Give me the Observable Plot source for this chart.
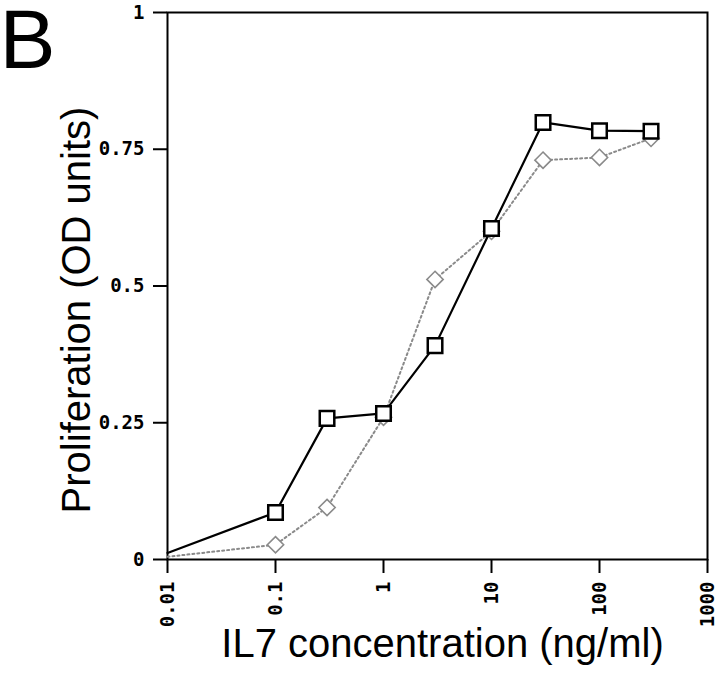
<!DOCTYPE html>
<html><head><meta charset="utf-8">
<script src="https://cdn.jsdelivr.net/npm/d3@7"></script>
<script src="https://cdn.jsdelivr.net/npm/@observablehq/plot@0.6"></script>
<style>body{margin:0;background:#fff}</style>
</head><body><div id="chart"></div>
<script>
const concentrations = [0.01, 0.1, 0.3, 1, 3, 10, 30, 100, 300];
const squareSeries = [0.012, 0.086, 0.258, 0.267, 0.391, 0.605, 0.799, 0.784, 0.783];
const diamondSeries = [0.005, 0.027, 0.095, 0.26, 0.512, 0.6, 0.73, 0.735, 0.77];
const xTicks = [0.01, 0.1, 1, 10, 100, 1000];
const xTickLabels = ["0.01", "0.1", "1", "10", "100", "1000"];
const yTicks = [0, 0.25, 0.5, 0.75, 1];
const yTickLabels = ["0", "0.25", "0.5", "0.75", "1"];
const panelLabel = "B";
const xLabel = "IL7 concentration (ng/ml)";
const yLabel = "Proliferation (OD units)";

const rows = concentrations.map((c, i) => ({c, sq: squareSeries[i], di: diamondSeries[i]}));
const marked = rows.slice(1);

const diamond = {
  draw(ctx, size) {
    const h = Math.sqrt(size / 2);
    ctx.moveTo(0, -h); ctx.lineTo(h, 0); ctx.lineTo(0, h); ctx.lineTo(-h, 0); ctx.closePath();
  }
};

const labelFont = {fontFamily: "Liberation Sans, Arial, sans-serif", fontSize: 40, lineAnchor: "middle", textAnchor: "middle"};

const chart = Plot.plot({
  width: 720, height: 674,
  marginLeft: 167, marginRight: 13, marginTop: 12, marginBottom: 115,
  style: {background: "white", overflow: "visible", color: "black"},
  x: {type: "log", domain: [0.01, 1000]},
  y: {domain: [0, 1]},
  marks: [
    Plot.frame({stroke: "black", strokeWidth: 2}),
    Plot.axisY(yTicks, {tickSize: 14, tickPadding: 9, strokeWidth: 2, label: null,
      tickFormat: d => yTickLabels[yTicks.indexOf(d)]}),
    Plot.axisX(xTicks, {tickSize: 14, tickPadding: 8, strokeWidth: 2, label: null, tickRotate: -90,
      tickFormat: d => xTickLabels[xTicks.indexOf(d)]}),
    Plot.line(rows, {x: "c", y: "di", stroke: "#8a8a8a", strokeWidth: 2, strokeDasharray: "2,3"}),
    Plot.dot(marked, {x: "c", y: "di", symbol: diamond, r: 6.5, fill: "white", stroke: "#8a8a8a", strokeWidth: 1.6}),
    Plot.line(rows, {x: "c", y: "sq", stroke: "black", strokeWidth: 2.2}),
    Plot.dot(marked, {x: "c", y: "sq", symbol: "square", r: 8.2, fill: "white", stroke: "black", strokeWidth: 2.5}),
    Plot.text([xLabel], {frameAnchor: "bottom", dx: 5, dy: 85, text: d => d, ...labelFont}),
    Plot.text([yLabel], {frameAnchor: "left", dx: -90, dy: 24, rotate: -90, text: d => d, ...labelFont}),
    Plot.text([panelLabel], {frameAnchor: "top-left", dx: -168, dy: 29, textAnchor: "start", lineAnchor: "middle", text: d => d,
      fontFamily: "Liberation Sans, Arial, sans-serif", fontSize: 84})
  ]
});
const allTickLabels = new Set([...xTickLabels, ...yTickLabels]);
d3.select(chart).selectAll("text")
  .filter(function() { return allTickLabels.has(this.textContent); })
  .style("font-family", "'DejaVu Sans Mono', monospace")
  .style("font-size", "19px")
  .style("font-weight", "bold");
document.getElementById("chart").appendChild(chart);
</script>
</body></html>
